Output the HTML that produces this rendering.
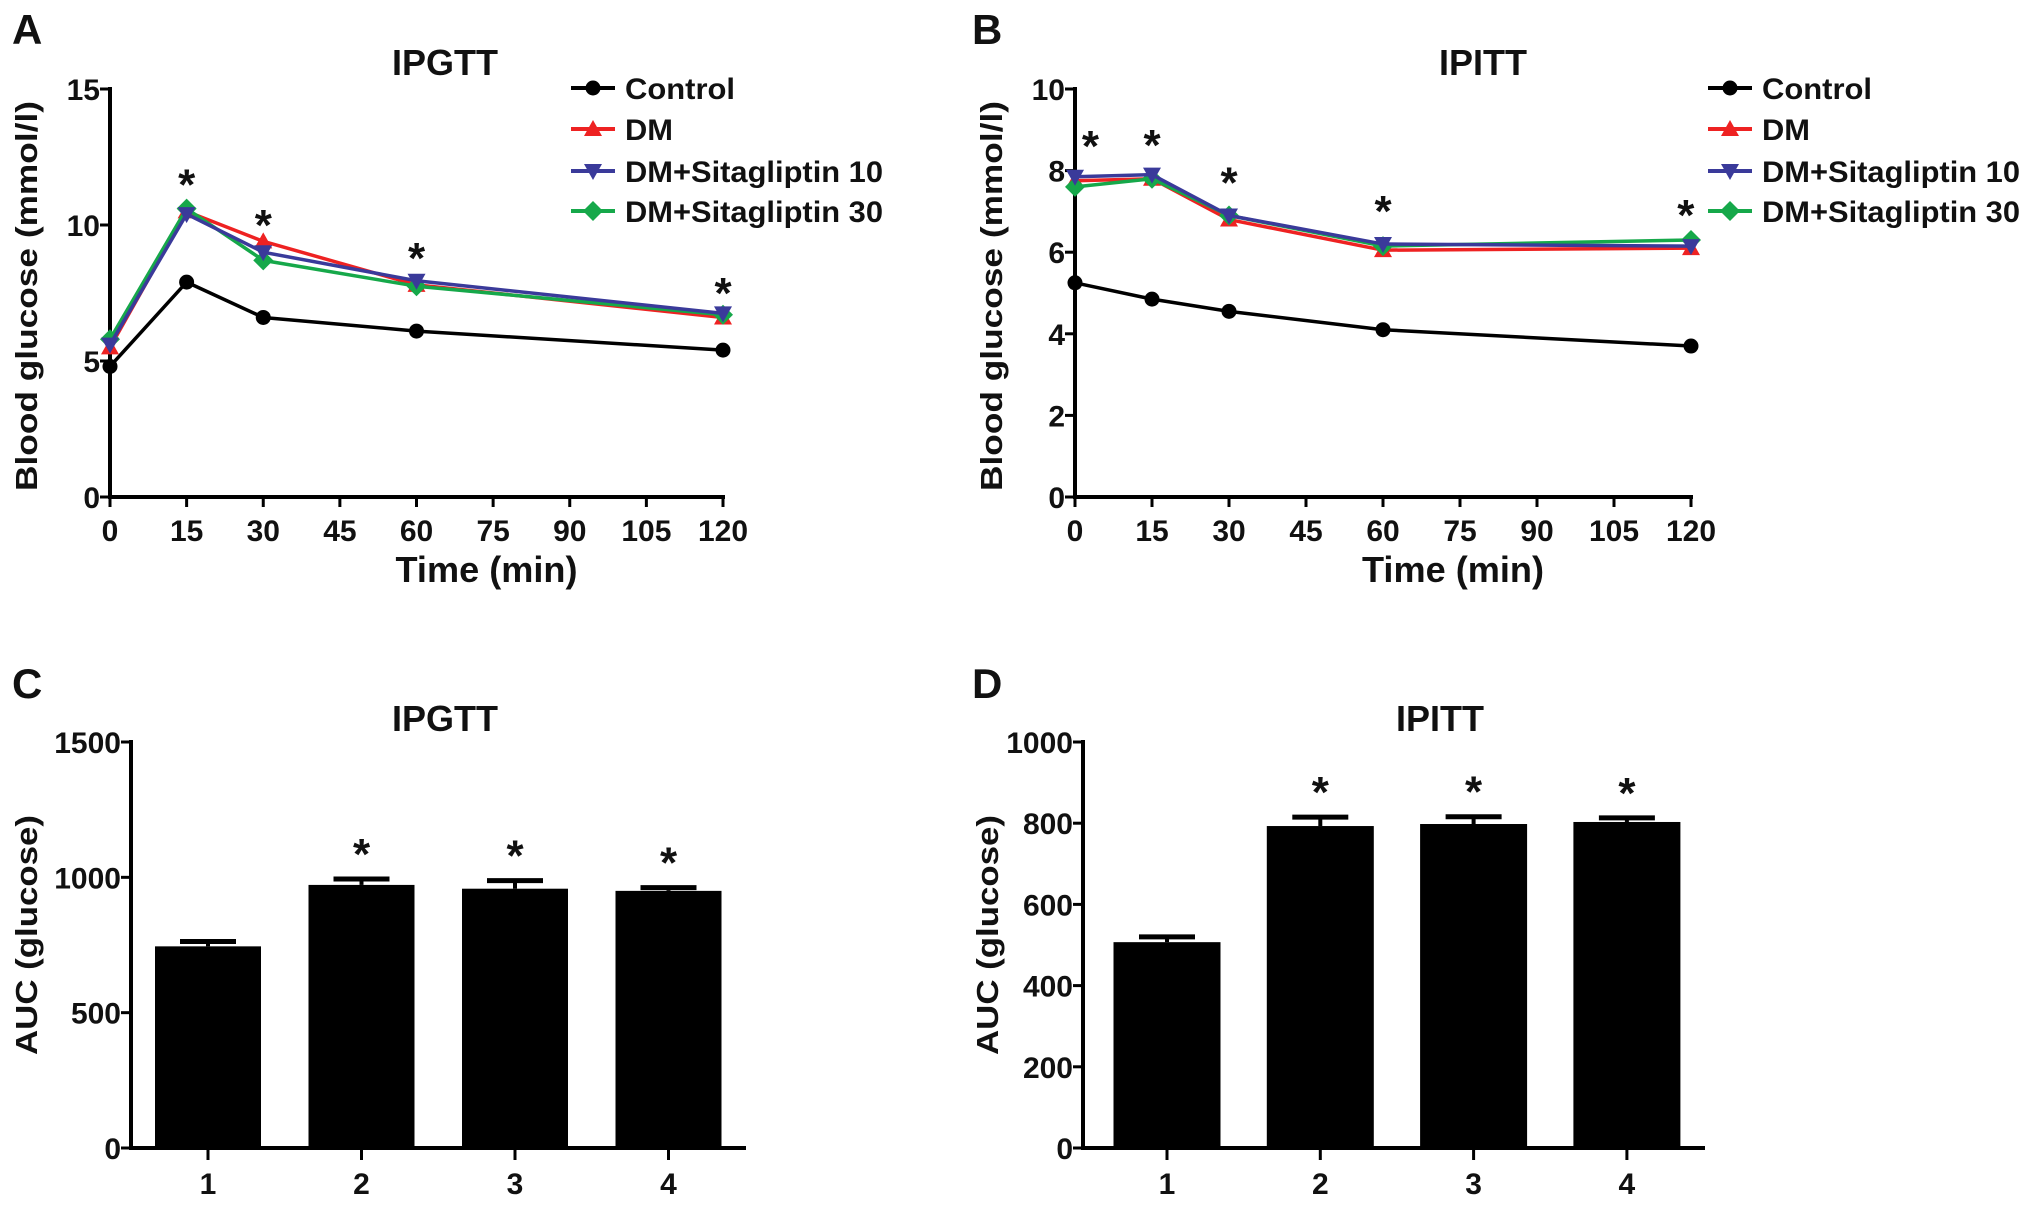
<!DOCTYPE html>
<html><head><meta charset="utf-8"><style>
html,body{margin:0;padding:0;background:#fff;}
svg{display:block;}
.tk{font-family:"Liberation Sans Narrow","Liberation Sans",sans-serif;font-weight:bold;font-size:30px;fill:#111;}
.ttl{font-family:"Liberation Sans Narrow","Liberation Sans",sans-serif;font-weight:bold;font-size:36px;fill:#111;}
.ax{font-family:"Liberation Sans",sans-serif;font-weight:bold;font-size:31px;fill:#111;}
.let{font-family:"Liberation Sans",sans-serif;font-weight:bold;font-size:42px;fill:#111;}
.star{font-family:"Liberation Sans",sans-serif;font-weight:bold;font-size:44px;fill:#111;}
</style></head><body>
<svg id="fig" width="2031" height="1205" viewBox="0 0 2031 1205" xmlns="http://www.w3.org/2000/svg"></svg>
<script>
// ---- data ----
var timePoints=[0,15,30,60,120];
var xTicks=[0,15,30,45,60,75,90,105,120];
var seriesNames=["Control","DM","DM+Sitagliptin 10","DM+Sitagliptin 30"];
var seriesColors=["#000000","#ee2222","#3a3a9a","#16a84a"];
var seriesMarkers=["circle","tri","itri","diamond"];
var ipgttControl=[4.8,7.9,6.6,6.1,5.4];
var ipgttDM=[5.5,10.5,9.4,7.8,6.6];
var ipgttS10=[5.6,10.4,9.0,7.95,6.75];
var ipgttS30=[5.8,10.6,8.7,7.75,6.7];
var ipgttYTicks=[0,5,10,15];
var ipgttStarTimes=[15,30,60,120];
var ipgttStarVals=[11.9,10.4,9.2,7.9];
var ipittControl=[5.25,4.85,4.55,4.1,3.7];
var ipittDM=[7.75,7.8,6.8,6.05,6.1];
var ipittS10=[7.85,7.9,6.9,6.2,6.15];
var ipittS30=[7.6,7.8,6.9,6.15,6.3];
var ipittYTicks=[0,2,4,6,8,10];
var ipittStarTimes=[3,15,30,60,119];
var ipittStarVals=[8.87,8.9,7.98,7.28,7.18];
var groups=["1","2","3","4"];
var aucGtt=[745,972,958,950];
var aucGttErr=[18,22,30,12];
var aucGttTicks=[0,500,1000,1500];
var aucItt=[507,793,798,803];
var aucIttErr=[13,22,18,10];
var aucIttTicks=[0,200,400,600,800,1000];

var NS="http://www.w3.org/2000/svg";
var svg=document.getElementById('fig');
function mk(tag,attrs,parent){var e=document.createElementNS(NS,tag);for(var k in attrs)e.setAttribute(k,attrs[k]);(parent||svg).appendChild(e);return e;}
function txt(s,attrs,parent){var e=mk('text',attrs,parent);e.textContent=s;return e;}

function marker(g,type,x,y,c){
  var e;
  if(type==="circle")e=mk('circle',{cx:x,cy:y,r:7.5,fill:c},g);
  else if(type==="tri")e=mk('polygon',{points:(x)+','+(y-9)+' '+(x-9)+','+(y+7)+' '+(x+9)+','+(y+7),fill:c},g);
  else if(type==="itri")e=mk('polygon',{points:(x)+','+(y+9)+' '+(x-9)+','+(y-7)+' '+(x+9)+','+(y-7),fill:c},g);
  else e=mk('polygon',{points:x+','+(y-10)+' '+(x+10)+','+y+' '+x+','+(y+10)+' '+(x-10)+','+y,fill:c},g);
  return e;
}

function axesFrame(g,x0,y0,x1,yTop){
  var a=mk('line',{x1:x0,y1:y0+2,x2:x0,y2:yTop-2,stroke:'#000','stroke-width':4},g);
  
  var b=mk('line',{x1:x0-2,y1:y0,x2:x1,y2:y0,stroke:'#000','stroke-width':4},g);
  
}

function linePanel(o){
  var g=mk('g',{});
  
  
  var xs=function(t){return o.x0+(t-0)/120*(o.x1-o.x0);};
  var ys=function(v){return o.y0-(v-0)/o.ymax*(o.y0-o.yTop);};
  axesFrame(g,o.x0,o.y0,o.x1+2,o.yTop);
  o.yTicks.forEach(function(v){
    var t=mk('line',{x1:o.x0-10,y1:ys(v),x2:o.x0,y2:ys(v),stroke:'#000','stroke-width':3},g);
    
    var l=txt(String(v),{x:o.x0-10,y:ys(v)+11,'text-anchor':'end','class':'tk'},g);
    
  });
  xTicks.forEach(function(v){
    var t=mk('line',{x1:xs(v),y1:o.y0,x2:xs(v),y2:o.y0+10,stroke:'#000','stroke-width':3},g);
    
    var l=txt(String(v),{x:xs(v),y:o.y0+44,'text-anchor':'middle','class':'tk'},g);
    
  });
  var order=[0,1,3,2];
  order.forEach(function(i){
    var data=o.series[i];
    var pts=timePoints.map(function(t,j){return xs(t)+','+ys(data[j]);}).join(' ');
    var pl=mk('polyline',{points:pts,fill:'none',stroke:seriesColors[i],'stroke-width':3.5,'stroke-linejoin':'round'},g);
    
    timePoints.forEach(function(t,j){
      var m=marker(g,seriesMarkers[i],xs(t),ys(data[j]),seriesColors[i]);
      
    });
  });
  o.starT.forEach(function(t,k){
    var s=txt('*',{x:xs(t),y:ys(o.starV[k])+26,'text-anchor':'middle','class':'star'},g);
    
  });
  // legend
  seriesNames.forEach(function(n,i){
    var y=o.legY[i];
    var ln=mk('line',{x1:o.legX,y1:y,x2:o.legX+44,y2:y,stroke:seriesColors[i],'stroke-width':4},g);
    
    var m=marker(g,seriesMarkers[i],o.legX+22,y,seriesColors[i]);
    
    var t=txt(n,{x:o.legX+54,y:y+11,'class':'tk','font-size':'31'},g);
    t.setAttribute('textLength',[110,48,258,258][i]);
    t.setAttribute('lengthAdjust','spacingAndGlyphs');
    
  });
  var ti=txt(o.title,{x:o.titleX,y:75,'text-anchor':'middle','class':'ttl'},g);
  
  var xt=txt('Time (min)',{x:(o.x0+o.x1)/2+70,y:582,'text-anchor':'middle','class':'ttl'},g);
  xt.setAttribute('textLength',182);xt.setAttribute('lengthAdjust','spacingAndGlyphs');
  
  var yt=txt('Blood glucose (mmol/l)',{x:0,y:0,'text-anchor':'middle','class':'ax',transform:'translate('+(o.x0-73)+',296) rotate(-90)'},g);
  yt.setAttribute('textLength',390);yt.setAttribute('lengthAdjust','spacingAndGlyphs');
  
  var lt=txt(o.letter,{x:o.letterX,y:44,'class':'let'},g);
  
}

function barPanel(o){
  var g=mk('g',{});
  
  
  var ys=function(v){return o.y0-v/o.ymax*(o.y0-o.yTop);};
  var xs=function(i){return o.c0+i*o.step;};
  axesFrame(g,o.x0,o.y0,o.xEnd,o.yTop);
  o.yTicks.forEach(function(v){
    var t=mk('line',{x1:o.x0-10,y1:ys(v),x2:o.x0,y2:ys(v),stroke:'#000','stroke-width':3},g);
    
    var l=txt(String(v),{x:o.x0-10,y:ys(v)+11,'text-anchor':'end','class':'tk'},g);
    
  });
  groups.forEach(function(gname,i){
    var cx=xs(i);
    var e=mk('line',{x1:cx,y1:ys(o.vals[i]),x2:cx,y2:ys(o.vals[i]+o.errs[i]),stroke:'#000','stroke-width':4},g);
    
    var c=mk('line',{x1:cx-28,y1:ys(o.vals[i]+o.errs[i]),x2:cx+28,y2:ys(o.vals[i]+o.errs[i]),stroke:'#000','stroke-width':5},g);
    
    var r=mk('rect',{x:cx-o.bw/2,y:ys(o.vals[i]),width:o.bw,height:o.y0-ys(o.vals[i]),fill:'#000'},g);
    
    var t=mk('line',{x1:cx,y1:o.y0,x2:cx,y2:o.y0+12,stroke:'#000','stroke-width':3},g);
    
    var l=txt(gname,{x:cx,y:o.y0+46,'text-anchor':'middle','class':'tk'},g);
    
    if(i>0){
      var s=txt('*',{x:cx,y:ys(o.vals[i]+o.errs[i])-10,'text-anchor':'middle','class':'star'},g);
      
    }
  });
  var ti=txt(o.title,{x:o.titleX,y:731,'text-anchor':'middle','class':'ttl'},g);
  
  var yt=txt('AUC (glucose)',{x:0,y:0,'text-anchor':'middle','class':'ax',transform:'translate('+o.ytX+',935) rotate(-90)'},g);
  yt.setAttribute('textLength',240);yt.setAttribute('lengthAdjust','spacingAndGlyphs');
  
  var lt=txt(o.letter,{x:o.letterX,y:698,'class':'let'},g);
  
}

linePanel({name:'panel-a-ipgtt',x0:110,x1:723,y0:497,yTop:89,ymax:15,yTicks:ipgttYTicks,
  series:[ipgttControl,ipgttDM,ipgttS10,ipgttS30],starT:ipgttStarTimes,starV:ipgttStarVals,
  legX:571,legY:[88,129,171,211],title:'IPGTT',titleX:445,letter:'A',letterX:12});
linePanel({name:'panel-b-ipitt',x0:1075,x1:1691,y0:497,yTop:89,ymax:10,yTicks:ipittYTicks,
  series:[ipittControl,ipittDM,ipittS10,ipittS30],starT:ipittStarTimes,starV:ipittStarVals,
  legX:1708,legY:[88,129,171,211],title:'IPITT',titleX:1483,letter:'B',letterX:972});
barPanel({name:'panel-c-auc-ipgtt',x0:131,xEnd:746,y0:1148,yTop:742,ymax:1500,yTicks:aucGttTicks,
  vals:aucGtt,errs:aucGttErr,c0:208,step:153.5,bw:106,title:'IPGTT',titleX:445,ytX:37,letter:'C',letterX:12});
barPanel({name:'panel-d-auc-ipitt',x0:1083,xEnd:1705,y0:1148,yTop:742,ymax:1000,yTicks:aucIttTicks,
  vals:aucItt,errs:aucIttErr,c0:1167,step:153.3,bw:107,title:'IPITT',titleX:1440,ytX:998,letter:'D',letterX:972});
</script>
</body></html>
